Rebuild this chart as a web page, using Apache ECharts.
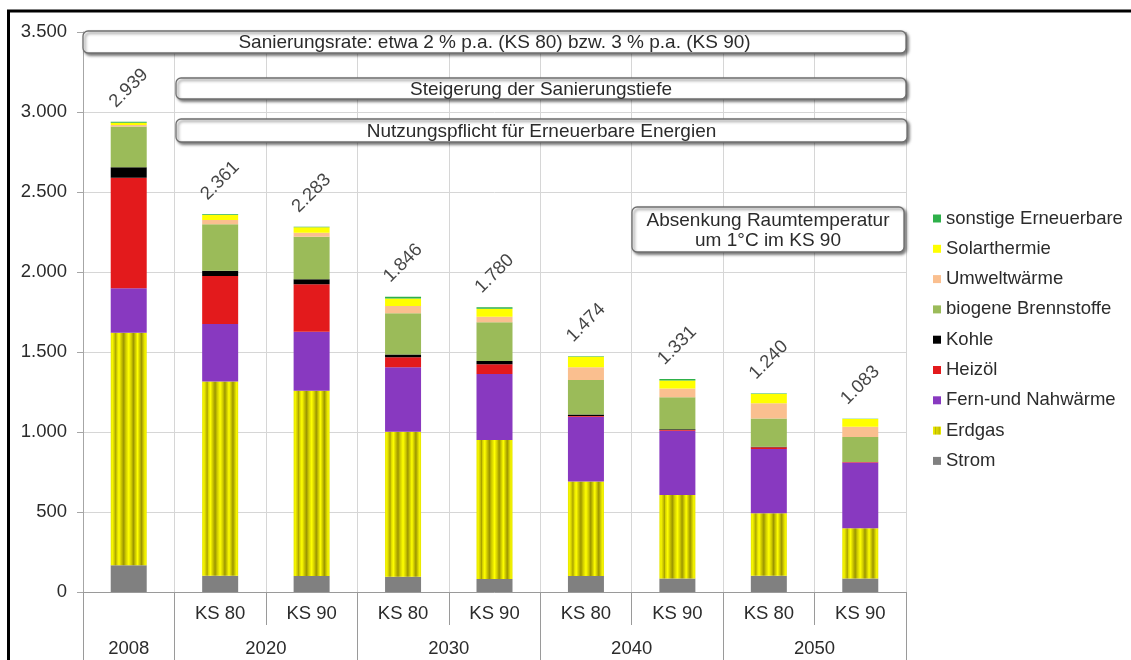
<!DOCTYPE html>
<html>
<head>
<meta charset="utf-8">
<script src="https://cdn.jsdelivr.net/npm/echarts@6/dist/echarts.min.js"></script>
<style>
  html, body { margin: 0; padding: 0; background: #fff; }
  #chart { width: 1131px; height: 660px; }
</style>
</head>
<body>
<div id="chart"></div>
<script>
// Endenergieverbrauch nach Energieträgern, Szenarien KS 80 / KS 90
const categories = ['2008', '2020 KS 80', '2020 KS 90', '2030 KS 80', '2030 KS 90',
                    '2040 KS 80', '2040 KS 90', '2050 KS 80', '2050 KS 90'];
const scenarioLabels = ['', 'KS 80', 'KS 90', 'KS 80', 'KS 90', 'KS 80', 'KS 90', 'KS 80', 'KS 90'];
const yearLabels = ['2008', '2020', '2030', '2040', '2050'];
const yTicks = [0, 500, 1000, 1500, 2000, 2500, 3000, 3500];

const strom      = [167, 102, 100,  96,  81, 100,  85, 102,  85];
const erdgas     = [1454, 1213, 1158, 906, 869, 590, 521, 390, 313];
const fernwaerme = [277, 360, 369, 402, 412, 406, 402, 402, 412];
const heizoel    = [691, 300, 296,  63,  61,   4,   4,  10,   2];
const kohle      = [ 65,  33,  31,  18,  21,  10,   5,   4,   0];
const biogen     = [256, 290, 267, 257, 242, 215, 200, 177, 157];
const umwelt     = [  8,  27,  25,  45,  35,  80,  55,  94,  64];
const solar      = [ 15,  32,  33,  47,  50,  65,  50,  58,  48];
const sonstige   = [  6,   4,   4,  12,   9,   4,   9,   3,   2];

const notes = [
  'Sanierungsrate: etwa 2 % p.a. (KS 80) bzw. 3 % p.a. (KS 90)',
  'Steigerung der Sanierungstiefe',
  'Nutzungspflicht für Erneuerbare Energien',
  'Absenkung Raumtemperatur\num 1°C im KS 90'
];

const FONT = '"Liberation Sans", Arial, sans-serif';
const TEXT = '#2b2b2b';
const FS = 18.5;

// soft vertical yellow/olive stripes across each natural gas bar
const gasStripes = {
  type: 'linear', x: 0, y: 0, x2: 1, y2: 0,
  colorStops: [
    [0, '#e6e600'], [0.05, '#f5f500'], [0.11, '#c8c200'], [0.14, '#a8a200'], [0.17, '#d8d400'],
    [0.23, '#ffff00'], [0.30, '#c8c200'], [0.36, '#9c9600'], [0.42, '#d0cc00'], [0.50, '#ffff00'],
    [0.575, '#cfca00'], [0.63, '#9c9600'], [0.69, '#d0cc00'], [0.745, '#ffff00'], [0.80, '#cfca00'],
    [0.855, '#9c9600'], [0.91, '#d0cc00'], [0.955, '#f5f500'], [1, '#e6e600']
  ].map(([offset, color]) => ({ offset, color }))
};

const stackSeries = [
  { name: 'Strom', data: strom, color: '#808080' },
  { name: 'Erdgas', data: erdgas, color: gasStripes },
  { name: 'Fern-und Nahwärme', data: fernwaerme, color: '#8839c0' },
  { name: 'Heizöl', data: heizoel, color: '#e31a1c' },
  { name: 'Kohle', data: kohle, color: '#000000' },
  { name: 'biogene Brennstoffe', data: biogen, color: '#9bbb59' },
  { name: 'Umweltwärme', data: umwelt, color: '#fabf8f' },
  { name: 'Solarthermie', data: solar, color: '#ffff00' },
  { name: 'sonstige Erneuerbare', data: sonstige, color: '#2eb04a' }
];

const totals = categories.map((_, i) => stackSeries.reduce((s, ser) => s + ser.data[i], 0));
const fmt = v => String(v).replace(/\B(?=(\d{3})+(?!\d))/g, '.');

// year groups on the lower axis row, derived from the category names
const groupIdx = yearLabels.map(y => categories.map((c, i) => c.startsWith(y) ? i : -1).filter(i => i >= 0));
const groupCenters = groupIdx.map(idx => (idx[0] + idx[idx.length - 1] + 1) / 2);
const groupEdges = [0].concat(groupIdx.map(idx => idx[idx.length - 1] + 1));

function noteBox(x, y, w, h, text) {
  return [
    { type: 'rect', z: 100, shape: { x: x, y: y, width: w, height: h, r: 5 },
      style: { fill: '#ffffff', stroke: '#6f6f6f', lineWidth: 1.3,
               shadowBlur: 3, shadowOffsetX: 2, shadowOffsetY: 2, shadowColor: 'rgba(0,0,0,0.5)' } },
    { type: 'text', z: 101, style: { text: text, x: x + w / 2, y: y + h / 2 + 1, align: 'center', verticalAlign: 'middle',
               fontSize: 19, fontFamily: FONT, fill: TEXT, lineHeight: 20 } }
  ];
}

const chart = echarts.init(document.getElementById('chart'), null, { renderer: 'canvas' });

chart.setOption({
  animation: false,
  backgroundColor: '#ffffff',
  textStyle: { fontFamily: FONT },
  grid: { left: 83, right: 225, top: 32, bottom: 68, containLabel: false },
  legend: {
    orient: 'vertical', left: 933, top: 209, padding: 0,
    itemWidth: 8, itemHeight: 8, itemGap: 11.3,
    icon: 'rect',
    data: stackSeries.map(s => s.name).reverse(),
    textStyle: { fontSize: FS, color: TEXT, fontFamily: FONT, lineHeight: 18 },
    selectedMode: false
  },
  xAxis: [
    {
      type: 'category', data: categories, position: 'bottom',
      axisLine: { lineStyle: { color: '#9a9a9a', width: 1 } },
      axisTick: { show: true, interval: 0, length: 33, lineStyle: { color: '#9a9a9a' } },
      axisLabel: { interval: 0, margin: 12, fontSize: FS, color: TEXT, fontFamily: FONT,
                   formatter: (v, i) => scenarioLabels[i] },
      splitLine: { show: true, interval: 0, lineStyle: { color: '#d6d6d6', width: 1 } }
    },
    {
      type: 'value', min: 0, max: categories.length, position: 'bottom', offset: 0,
      axisLine: { show: false },
      splitLine: { show: false },
      axisTick: { show: true, length: 68, customValues: groupEdges, lineStyle: { color: '#9a9a9a' } },
      axisLabel: { show: true, margin: 47, fontSize: FS, color: TEXT, fontFamily: FONT,
                   customValues: groupCenters,
                   formatter: v => yearLabels[groupCenters.indexOf(v)] || '' }
    }
  ],
  yAxis: {
    type: 'value', min: yTicks[0], max: yTicks[yTicks.length - 1], interval: 500,
    axisLine: { show: true, lineStyle: { color: '#a6a6a6' } },
    axisTick: { show: true, length: 6, lineStyle: { color: '#a6a6a6' } },
    axisLabel: { margin: 16, fontSize: FS, color: TEXT, fontFamily: FONT, formatter: v => fmt(v) },
    splitLine: { lineStyle: { color: '#d6d6d6', width: 1 } }
  },
  series: stackSeries.map(s => ({
    name: s.name, type: 'bar', stack: 'total', barWidth: 36,
    data: s.data, itemStyle: { color: s.color }, emphasis: { disabled: true }
  })).concat([{
    name: 'Summe', type: 'scatter', data: totals, symbolSize: 1,
    itemStyle: { color: 'rgba(0,0,0,0)' }, silent: true, z: 10,
    label: { show: true, position: 'top', distance: 33, rotate: 45,
             align: 'center', verticalAlign: 'middle',
             fontSize: FS, color: '#141414', fontFamily: FONT,
             formatter: p => fmt(p.value) }
  }]),
  graphic: [].concat(
    noteBox(83, 31, 823, 22, notes[0]),
    noteBox(176, 78, 730, 21, notes[1]),
    noteBox(176, 119, 731, 23, notes[2]),
    noteBox(632, 207, 272, 45, notes[3]),
    [{ type: 'rect', z: 200, shape: { x: 8.5, y: 11, width: 2000, height: 2000 },
       style: { fill: 'none', stroke: '#000000', lineWidth: 3 } }]
  )
});
</script>
</body>
</html>
